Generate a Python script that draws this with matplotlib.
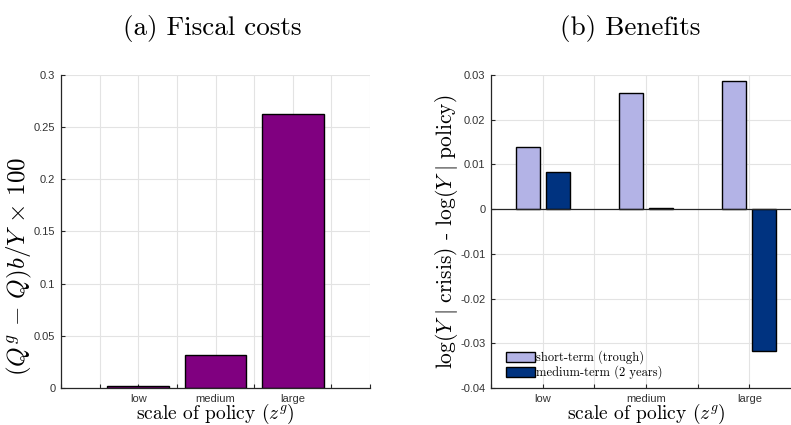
import numpy as np
import matplotlib
matplotlib.use("Agg")
import matplotlib.pyplot as plt
import matplotlib.ticker as mtick

# data
scales = ["low", "medium", "large"]
fiscal_costs = [0.0015, 0.032, 0.263]
short_term = [0.0140, 0.0260, 0.0286]
medium_term = [0.0084, 0.0002, -0.0318]

plt.rcParams["mathtext.fontset"] = "cm"
plt.rcParams["axes.unicode_minus"] = False

SERIF = "cmr10"
TICKFONT = "Liberation Sans"
SPINE = "#262626"
GRID = "#e3e3e3"

fig = plt.figure(figsize=(7.91, 4.25), dpi=100)
ax1 = fig.add_axes([61 / 791, 37 / 425, 309 / 791, 313 / 425])
ax2 = fig.add_axes([491 / 791, 37 / 425, 310 / 791, 313 / 425])

x = np.arange(1, len(scales) + 1)


def style(ax, xlim, ylim, yticks):
    ax.set_xlim(*xlim)
    ax.set_ylim(*ylim)
    ax.set_xticks(np.arange(xlim[0], xlim[1] + 0.01, 0.5))
    labels = []
    for t in ax.get_xticks():
        labels.append(scales[int(t) - 1] if float(t).is_integer() and 1 <= t <= 3 else "")
    ax.set_xticklabels(labels)
    ax.set_yticks(np.round(yticks, 3))
    ax.yaxis.set_major_formatter(mtick.FuncFormatter(lambda v, p: f"{round(v, 3):g}"))
    ax.tick_params(direction="in", length=3, width=0.8, colors=SPINE, labelsize=8, pad=4)
    for lab in ax.get_xticklabels() + ax.get_yticklabels():
        lab.set_fontfamily(TICKFONT)
        lab.set_color("#333333")
    for s in ["top", "right"]:
        ax.spines[s].set_visible(False)
    for s in ["left", "bottom"]:
        ax.spines[s].set_color(SPINE)
        ax.spines[s].set_linewidth(0.9)
    ax.grid(True, color=GRID, linewidth=0.8)
    ax.set_axisbelow(True)
    ax.set_xlabel(r"scale of policy ($z^g$)", fontfamily=SERIF, fontsize=14, labelpad=-1)


# (a) Fiscal costs
ax1.bar(x, fiscal_costs, width=0.8, color="#800080", edgecolor="black", linewidth=1)
style(ax1, (0, 4), (0, 0.3), np.arange(0, 0.31, 0.05))
ax1.set_ylabel(r"$(Q^g\, -\, Q)b/Y\, \times\, 100$", fontsize=18)
ax1.yaxis.set_label_coords(-27 / 309, 0.39)

# (b) Benefits
w = 0.23
off = 0.145
ax2.bar(x - off, short_term, width=w, color="#b3b3e6", edgecolor="black",
        linewidth=1, label="short-term (trough)", zorder=3)
ax2.bar(x + off, medium_term, width=w, color="#003380", edgecolor="black",
        linewidth=1, label="medium-term (2 years)", zorder=3)
ax2.axhline(0, color=SPINE, linewidth=0.9, zorder=4)
style(ax2, (0.5, 3.5), (-0.04, 0.03), np.arange(-0.04, 0.031, 0.01))
ax2.set_ylabel(r"$\log(Y\ |\ \mathrm{crisis})$ - $\log(Y\ |\ \mathrm{policy})$",
               fontfamily=SERIF, fontsize=15.5)
ax2.yaxis.set_label_coords(-31 / 310, 0.5)
leg = ax2.legend(loc="lower left", bbox_to_anchor=(0.02, 0.0), frameon=False,
                 prop={"family": SERIF, "size": 9}, handlelength=2.3,
                 handleheight=0.85, handletextpad=0.1, labelspacing=0.1,
                 borderpad=0.2)

fig.text(212 / 791, 1 - 28 / 425, "(a) Fiscal costs", fontfamily=SERIF,
         fontsize=19.5, ha="center", va="center")
fig.text(630 / 791, 1 - 28 / 425, "(b) Benefits", fontfamily=SERIF,
         fontsize=19.5, ha="center", va="center")

fig.savefig("out.png", dpi=100)
